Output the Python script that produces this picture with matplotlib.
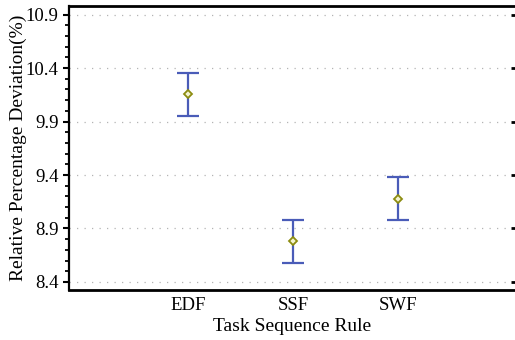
import numpy as np
import matplotlib.pyplot as plt
from matplotlib.ticker import MultipleLocator

rules = ['EDF', 'SSF', 'SWF']
means = [10.155, 8.78, 9.18]
errs = [0.20, 0.20, 0.20]
yticks = [8.4, 8.9, 9.4, 9.9, 10.4, 10.9]

plt.rcParams['font.family'] = ['Liberation Serif', 'DejaVu Serif']

fig = plt.figure(figsize=(5.15, 3.4), dpi=100)
ax = fig.add_axes([69 / 515, 50 / 340, 446 / 515, 284 / 340])

x = np.arange(1, len(rules) + 1)
ax.errorbar(x, means, yerr=errs, fmt='none', ecolor='#4a5cb8', elinewidth=1.6,
            capsize=8, capthick=1.6, zorder=3)
ax.plot(x, means, linestyle='none', marker='D', markersize=4.5,
        markerfacecolor='#f4f4d0', markeredgecolor='#8c8c10', markeredgewidth=1.3, zorder=4)

ax.set_xlim(-0.13, 4.11)
ax.set_ylim(8.325, 10.98)
ax.set_xticks(x)
ax.set_xticklabels(rules)
ax.set_yticks(yticks)
ax.set_yticklabels([f'{v:.1f}' for v in yticks])
ax.yaxis.set_minor_locator(MultipleLocator(0.1))

ax.grid(axis='y', linestyle=(0, (1, 5)), color='#b4b4b4', linewidth=0.9)
ax.set_axisbelow(True)

ax.spines['right'].set_visible(False)
ax.spines['top'].set_linewidth(2)
ax.spines['bottom'].set_linewidth(2)
ax.spines['left'].set_linewidth(1.6)

ax.tick_params(axis='x', length=0, labelsize=13.5, pad=5)
ax.tick_params(axis='y', which='major', direction='out', length=4, width=1.5,
               labelsize=13.5, right=True)
ax.tick_params(axis='y', which='minor', direction='out', length=3, width=1.3)
for t in ax.yaxis.get_major_ticks():
    t.tick2line.set_marker(0)
    t.tick2line.set_markersize(3)
    t.tick2line.set_markeredgewidth(2)

ax.set_xlabel('Task Sequence Rule', fontsize=14, labelpad=3)
ax.set_ylabel('Relative Percentage Deviation(%)', fontsize=14, labelpad=-1)

fig.savefig('out.png', dpi=100)
